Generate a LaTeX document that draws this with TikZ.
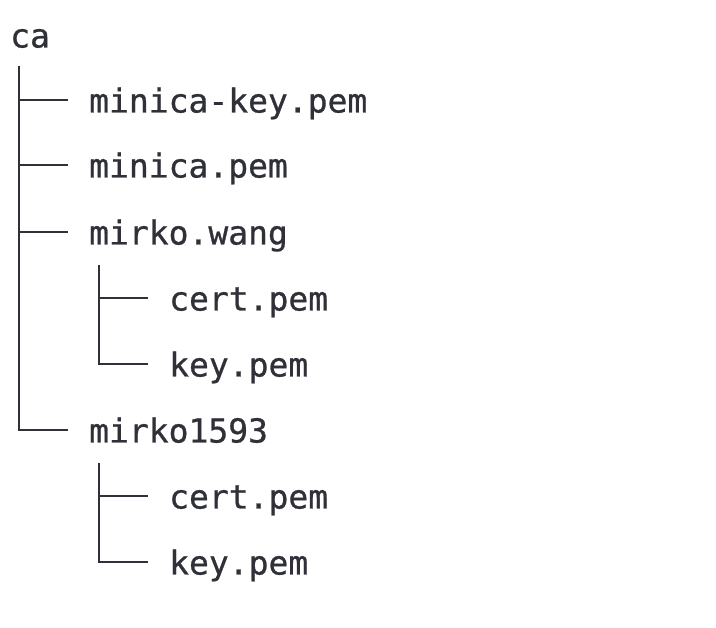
\documentclass[tikz,border=0pt]{standalone}
\usepackage{fontspec}
\usepackage{tikz}
\newfontfamily\filefont[FakeBold=0.8]{DejaVu Sans Mono}
\definecolor{ink}{HTML}{2F3038}

\begin{document}
\begin{tikzpicture}[x=1pt,y=-1pt,
  file/.style={anchor=west, inner sep=0pt, text height=25pt, text depth=0pt, text=ink, font=\filefont\fontsize{33}{40}\selectfont},
  branch/.style={draw=ink, line width=2pt}]
\useasboundingbox (0,0) rectangle (716,628);
\node [file] (ca) at (10,35) {ca};
\node [file] (minikey) at (89,100) {minica-key.pem};
\node [file] (minipem) at (89,165) {minica.pem};
\node [file] (wang) at (89,232) {mirko.wang};
\node [file] (wangcert) at (169,298) {cert.pem};
\node [file] (wangkey) at (169,364) {key.pem};
\node [file] (num) at (89,430) {mirko1593};
\node [file] (numcert) at (169,496) {cert.pem};
\node [file] (numkey) at (169,562) {key.pem};
\draw [branch] ([shift={(9pt,-18pt)}]ca.south west) |- ([xshift=-21pt]num.west);
\foreach \f in {minikey,minipem,wang}
  \draw [branch] ([xshift=-70pt]\f.west) -- ([xshift=-21pt]\f.west);
\draw [branch] ([shift={(10pt,-20pt)}]wang.south west) |- ([xshift=-21pt]wangkey.west);
\draw [branch] ([xshift=-70pt]wangcert.west) -- ([xshift=-21pt]wangcert.west);
\draw [branch] ([shift={(10pt,-20pt)}]num.south west) |- ([xshift=-21pt]numkey.west);
\draw [branch] ([xshift=-70pt]numcert.west) -- ([xshift=-21pt]numcert.west);
\end{tikzpicture}
\end{document}
